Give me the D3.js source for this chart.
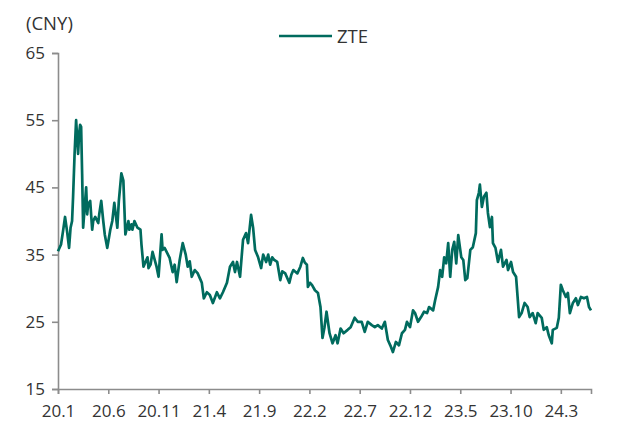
<!DOCTYPE html>
<html>
<head>
<meta charset="utf-8">
<script src="https://cdn.jsdelivr.net/npm/d3@7"></script>
<style>
  body { margin: 0; background: #fff; }
  svg text { font-family: "Open Sans", "Noto Sans", sans-serif; fill: #333; }
</style>
</head>
<body>
<div id="viz-container"></div>
<script>
// months since Jan 2020
let months = [0, 0.3, 0.5, 0.7, 0.9, 1.1, 1.25, 1.4, 1.5, 1.65, 1.8, 2.0, 2.1, 2.2, 2.3, 2.4, 2.5, 2.6, 2.8, 2.9,
  3.0, 3.2, 3.4, 3.5, 3.7, 4.0, 4.1, 4.3, 4.5, 4.65, 4.9, 5.2, 5.4, 5.6, 5.9, 6.05, 6.3, 6.5, 6.7, 7.0,
  7.1, 7.3, 7.4, 7.6, 7.9, 8.2, 8.3, 8.5, 8.9, 9.0, 9.2, 9.4, 9.8, 10.0, 10.3, 10.4, 10.6, 10.8, 11.1, 11.4,
  11.6, 11.8, 12.1, 12.4, 12.7, 12.9, 13.1, 13.3, 13.6, 13.9, 14.1, 14.3, 14.5, 14.8, 15.1, 15.4, 15.8, 16.1, 16.4, 16.8,
  17.1, 17.4, 17.6, 17.8, 18.1, 18.4, 18.7, 18.9, 19.2, 19.4, 19.6, 19.9, 20.2, 20.4, 20.7, 20.9, 21.1, 21.3, 21.5, 21.8,
  22.1, 22.3, 22.6, 23.0, 23.2, 23.4, 23.8, 24.1, 24.35, 24.55, 24.75, 24.85, 25.05, 25.25, 25.55, 25.85, 26.1, 26.3, 26.5, 26.7,
  27.0, 27.3, 27.6, 27.8, 28.1, 28.4, 28.8, 29.1, 29.5, 29.8, 30.2, 30.5, 30.8, 31.2, 31.5, 31.8, 32.2, 32.5, 32.8, 33.1,
  33.3, 33.6, 33.9, 34.2, 34.5, 34.7, 35.0, 35.3, 35.5, 35.8, 36.1, 36.4, 36.7, 36.9, 37.3, 37.5, 37.8, 38.0, 38.2, 38.4,
  38.6, 38.8, 39.0, 39.2, 39.4, 39.6, 39.8, 40.1, 40.3, 40.5, 40.7, 41.0, 41.25, 41.55, 41.65, 41.85, 41.95, 42.15, 42.35, 42.6,
  42.75, 42.95, 43.15, 43.25, 43.5, 43.75, 44.05, 44.25, 44.6, 44.75, 45.05, 45.25, 45.55, 45.7, 45.85, 46.1, 46.4, 46.7, 46.9, 47.2,
  47.5, 47.7, 48.1, 48.3, 48.6, 48.8, 49.1, 49.2, 49.6, 49.8, 50.0, 50.2, 50.5, 50.7, 50.9, 51.2, 51.5, 51.7, 52.0, 52.3,
  52.6, 52.8, 53.0];

// ZTE close price, CNY
let prices = [35.5, 36.5, 38.5, 40.6, 38.5, 36, 39, 40, 43.6, 50, 55, 50, 53, 54.3, 54, 47, 39, 41, 45, 41,
  42.5, 43, 38.7, 40, 40.6, 39.7, 41, 43, 40, 38, 36, 38.7, 40, 42.7, 39, 43, 47.1, 46, 38, 40,
  38.7, 39.5, 38.7, 40, 39, 38.7, 36.5, 33.2, 34.6, 33, 33.5, 35.4, 33.2, 31.7, 38, 35.7, 36, 35.4, 34.5, 32.4,
  33.5, 30.9, 34.2, 36.7, 35, 33.2, 34, 31.7, 32.7, 32.2, 31.5, 30.8, 28.5, 29.4, 29, 27.8, 29.4, 28.5, 29.4, 30.8,
  33.2, 33.9, 32.4, 33.9, 31.7, 37.2, 38.2, 36.7, 40.9, 39, 35.7, 34.6, 33, 35, 33.9, 35, 33.5, 34.6, 34.2, 33.9,
  31.2, 32.5, 32.2, 30.8, 32, 32.7, 32.2, 33.2, 34.5, 33.8, 33.5, 30.2, 30.8, 30.5, 29.7, 29.3, 27.2, 22.6, 24.2, 26.5,
  23.3, 21.8, 23, 21.8, 24, 23.3, 23.8, 24.2, 25.6, 25, 25, 23.5, 25, 24.5, 24.2, 24.5, 24, 25, 22.3, 21.3,
  20.5, 22, 21.5, 23.3, 23.8, 25, 24.2, 26.7, 26.3, 25, 25.7, 26.5, 26.3, 27.2, 26.7, 28.2, 30.2, 32.7, 31.7, 34.6,
  33.7, 36.7, 31.7, 35.7, 36.9, 33.7, 37.9, 34.6, 34.2, 31.2, 31.5, 35.7, 36.1, 38.2, 43.1, 44.2, 45.4, 42.1, 43.6, 44.2,
  41.2, 39.1, 40.6, 36.7, 36, 33.9, 35.7, 33.2, 34.2, 32.7, 33.9, 32.4, 31.7, 28.7, 25.7, 26.3, 27.8, 27.2, 25.7, 26.3,
  24.8, 26.3, 25.6, 23.8, 24.2, 23, 21.8, 23.8, 24.1, 25.6, 30.5, 29.7, 28.7, 29.3, 26.3, 27.8, 28.5, 27.5, 28.7, 28.5,
  28.7, 27.2, 26.7];

// x ticks every 5 months
let tickMonths = [0, 5, 10, 15, 20, 25, 30, 35, 40, 45, 50];
let tickLabels = ["20.1", "20.6", "20.11", "21.4", "21.9", "22.2", "22.7", "22.12", "23.5", "23.10", "24.3"];
let yTicks = [15, 25, 35, 45, 55, 65];
let seriesName = "ZTE";
let unitLabel = "(CNY)";

let lineColor = "#006b5e";
let axisColor = "#8c8c8c";

let viz = d3.select("#viz-container")
  .append("svg")
    .attr("width", 635)
    .attr("height", 421)
;

let x = d3.scaleLinear().domain([0, 53]).range([58, 591]);
let y = d3.scaleLinear().domain([15, 65]).range([389, 53]);

let data = months.map(function(m, i){ return {m: m, v: prices[i]}; });

// y axis
let yAxis = d3.axisLeft(y).tickValues(yTicks).tickSize(6).tickPadding(7);
let yG = viz.append("g").attr("transform", "translate(58,0)").call(yAxis);

// x axis
let xAxis = d3.axisBottom(x)
  .tickValues(tickMonths)
  .tickSize(5)
  .tickPadding(7)
  .tickFormat(function(d, i){ return tickLabels[i]; });
let xG = viz.append("g").attr("transform", "translate(0,389)").call(xAxis);

[yG, xG].forEach(function(g){
  g.select(".domain").attr("stroke", axisColor).attr("stroke-width", 1.6);
  g.selectAll(".tick line").attr("stroke", axisColor).attr("stroke-width", 1.6);
  g.selectAll(".tick text")
    .style("font-family", "'Open Sans', 'Noto Sans', sans-serif")
    .style("font-size", "17px")
    .attr("fill", "#333");
});
xG.selectAll(".tick text").attr("dy", "0.95em");

// the price line
let line = d3.line()
  .x(function(d){ return x(d.m); })
  .y(function(d){ return y(d.v); });

viz.append("path")
  .datum(data)
  .attr("d", line)
  .attr("fill", "none")
  .attr("stroke", lineColor)
  .attr("stroke-width", 2.7)
  .attr("stroke-linejoin", "round");

// unit label
viz.append("text")
  .text(unitLabel)
  .attr("x", 26)
  .attr("y", 30)
  .style("font-size", "18.5px");

// legend
viz.append("line")
  .attr("x1", 279).attr("x2", 332)
  .attr("y1", 36).attr("y2", 36)
  .attr("stroke", lineColor)
  .attr("stroke-width", 2.7);
viz.append("text")
  .text(seriesName)
  .attr("x", 337)
  .attr("y", 42.5)
  .style("font-size", "18.5px");
</script>
</body>
</html>
